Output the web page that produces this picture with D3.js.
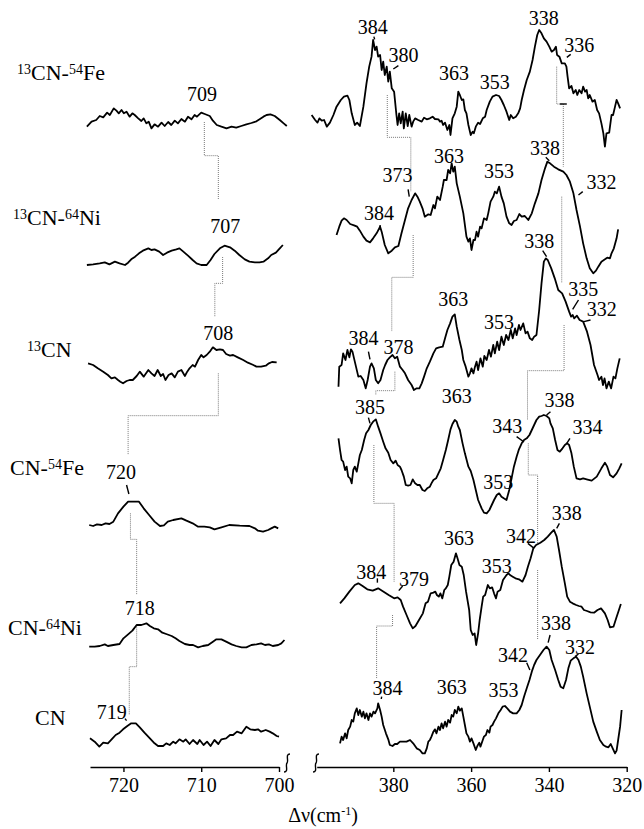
<!DOCTYPE html>
<html lang="en">
<head>
<meta charset="UTF-8">
<title>RR spectra, isotope shifts</title>
<script src="https://cdn.jsdelivr.net/npm/d3@7"></script>
<style>
  body { margin: 0; background: #fff; }
  svg text { font-family: "Liberation Serif", "DejaVu Serif", serif; fill: #000; }
  .trace { fill: none; stroke: #000; stroke-width: 1.8; stroke-linejoin: round; }
  .link { fill: none; stroke: #7a7a7a; stroke-width: 1; stroke-dasharray: 1 1; }
  .mark { stroke: #000; stroke-width: 1.4; fill: none; }
  .axis path, .axis line { stroke: #000; stroke-width: 1.4; }
  .axis text { font-size: 20px; }
  .peak { font-size: 20px; }
  .name { font-size: 22px; }
</style>
</head>
<body>
<svg id="chart" width="644" height="829"></svg>
<script>
// spectra: [wavenumber (cm-1), intensity (a.u.)]
const t1L = [[724.7,70],[724.1,85],[723.5,90],[723.05,102],[722.6,98],[722.1,112],[721.75,105],[721.25,125],[720.9,118],[720.6,110],[720.25,120],[719.95,110],[719.6,115],[719.2,100],[718.85,110],[718.55,105],[718.1,95],[717.7,87],[717.4,95],[717.05,80],[716.75,85],[716.4,65],[716.0,77],[715.55,70],[715.1,82],[714.7,72],[714.25,84],[713.85,75],[713.4,88],[713.0,80],[712.55,93],[712.1,85],[711.7,100],[711.25,92],[710.85,105],[710.55,100],[710.0,112],[709.55,108],[708.9,102],[708.5,88],[708.0,75],[707.4,70],[706.75,65],[706.1,70],[705.5,67],[704.85,72],[704.2,77],[703.55,81],[702.9,86],[702.5,92],[702.0,100],[701.6,105],[701.1,107],[700.55,102],[699.9,90],[699.4,80],[699.0,72]];
const t1R = [[401.0,105],[400.1,90],[399.5,82],[399.0,95],[398.4,88],[397.8,90],[397.1,70],[396.3,82],[395.4,105],[394.6,130],[393.5,150],[392.7,160],[391.8,163],[391.3,150],[390.7,110],[389.9,75],[389.3,82],[388.6,72],[387.7,130],[386.9,200],[386.2,250],[385.6,280],[385.2,330],[384.7,300],[384.3,310],[383.9,280],[383.4,285],[383.0,240],[382.6,265],[382.2,225],[381.7,250],[381.3,205],[380.9,235],[380.4,185],[379.8,175],[379.2,105],[378.9,75],[378.5,110],[378.1,80],[377.6,115],[377.3,65],[376.8,110],[376.3,72],[375.9,105],[375.3,70],[374.9,85],[374.4,95],[373.6,90],[372.7,85],[372.1,97],[371.4,92],[370.6,95],[369.9,100],[369.3,93],[368.4,92],[368.0,85],[367.6,88],[367.2,75],[366.7,82],[366.1,60],[365.6,75],[365.3,45],[364.8,95],[364.2,110],[363.7,130],[363.3,175],[362.9,165],[362.4,150],[362.0,152],[361.6,120],[361.2,110],[360.7,75],[360.1,45],[359.6,55],[359.3,50],[358.8,70],[358.2,82],[357.7,78],[357.0,95],[356.4,100],[356.0,120],[355.2,145],[354.5,160],[353.6,165],[352.8,162],[352.2,150],[351.6,135],[350.9,115],[350.2,90],[349.8,105],[349.2,95],[348.5,100],[347.9,110],[347.4,125],[347.0,150],[346.4,180],[345.7,210],[344.9,235],[344.2,270],[343.6,310],[343.0,345],[342.5,360],[341.9,350],[341.3,335],[340.6,325],[339.9,310],[339.3,295],[338.7,300],[338.2,310],[337.9,285],[337.3,280],[336.7,260],[335.9,260],[335.5,250],[335.2,220],[334.8,185],[334.2,192],[333.7,170],[333.1,180],[332.7,165],[332.2,180],[331.6,170],[331.2,190],[330.7,175],[330.3,180],[329.9,155],[329.5,165],[328.8,145],[328.2,150],[327.6,120],[327.1,110],[326.5,80],[326.0,50],[325.6,10],[325.2,50],[324.5,52],[323.9,105],[323.5,105],[323.0,130],[322.6,150],[322.2,140],[321.7,125]];
const t2L = [[724.7,30],[723.9,32],[723.05,35],[722.4,38],[721.8,32],[721.1,40],[720.5,35],[719.8,30],[719.4,37],[719.0,47],[718.5,55],[718.0,65],[717.5,73],[716.8,80],[716.4,75],[716.0,77],[715.4,70],[714.9,60],[714.4,67],[713.8,73],[713.2,77],[712.8,80],[712.3,70],[711.7,58],[711.1,45],[710.6,35],[710.0,30],[709.3,30],[708.8,45],[708.3,63],[707.6,80],[707.0,88],[706.3,83],[705.7,73],[705.1,60],[704.4,47],[703.8,40],[703.1,38],[702.5,38],[702.0,40],[701.4,50],[701.0,60],[700.4,67],[699.9,80],[699.5,90]];
const t2R = [[394.6,120],[393.9,145],[393.3,163],[392.7,170],[392.0,165],[391.1,153],[390.1,149],[389.3,145],[388.6,133],[387.7,115],[386.9,103],[386.0,98],[385.2,110],[384.3,125],[383.4,145],[383.0,130],[382.2,90],[381.3,65],[380.4,73],[379.6,83],[378.7,87],[377.9,125],[377.0,165],[376.2,200],[375.3,225],[374.4,245],[373.8,235],[373.2,220],[372.5,200],[371.9,175],[371.0,182],[370.4,180],[369.7,210],[369.3,200],[368.7,235],[368.0,225],[367.3,265],[367.0,285],[366.3,285],[365.9,315],[365.4,305],[365.0,335],[364.6,310],[364.2,325],[363.7,275],[362.9,235],[362.0,185],[361.2,115],[360.7,100],[360.3,110],[359.9,75],[359.4,105],[359.0,105],[358.6,130],[358.2,115],[357.7,145],[357.3,140],[356.7,170],[356.0,165],[355.6,185],[355.0,220],[354.3,235],[353.9,250],[353.4,245],[352.8,265],[352.2,235],[351.6,215],[350.9,175],[350.2,155],[349.6,150],[349.0,162],[348.3,165],[347.6,183],[347.0,175],[346.2,177],[345.3,165],[344.4,185],[343.6,215],[342.7,245],[341.9,285],[341.0,320],[340.4,340],[339.7,335],[338.7,325],[337.6,317],[336.3,310],[335.5,300],[334.6,280],[333.7,245],[332.9,195],[332.0,145],[331.2,95],[330.3,50],[329.5,20],[328.6,5],[327.9,13],[327.3,25],[326.5,40],[325.6,47],[325.0,52],[324.3,50],[323.9,65],[323.3,80],[322.6,110],[322.2,137]];
const t3L = [[724.55,86],[723.9,81],[723.3,71],[722.6,61],[722.0,51],[721.55,41],[721.1,44],[720.7,36],[720.4,31],[720.05,26],[719.6,33],[719.2,36],[718.8,36],[718.3,48],[717.9,61],[717.4,46],[716.8,66],[716.4,56],[716.0,48],[715.6,66],[715.2,48],[714.9,54],[714.6,36],[714.2,51],[713.8,56],[713.4,44],[713.0,61],[712.55,66],[712.1,48],[711.8,61],[711.5,71],[711.1,81],[710.8,76],[710.4,96],[710.0,111],[709.7,104],[709.3,111],[708.9,121],[708.5,134],[708.05,126],[707.6,128],[707.2,126],[706.8,114],[706.3,109],[705.9,111],[705.3,104],[704.6,96],[704.0,88],[703.3,81],[702.9,76],[702.3,76],[701.7,79],[701.3,86],[700.9,90],[700.3,89]];
const t3R = [[394.1,16],[393.9,76],[393.3,81],[392.9,116],[392.3,96],[391.8,126],[391.3,104],[390.9,128],[390.5,121],[390.1,101],[389.6,76],[389.0,46],[388.4,48],[387.7,36],[387.1,11],[386.6,36],[386.0,76],[385.6,86],[385.0,71],[384.5,36],[383.9,26],[383.3,36],[382.6,66],[382.1,81],[381.5,96],[380.9,104],[380.2,111],[379.6,101],[379.0,106],[378.3,76],[377.6,66],[377.0,56],[376.2,36],[375.3,21],[374.7,6],[374.0,11],[373.3,11],[372.7,26],[372.1,46],[371.4,71],[370.6,91],[369.7,116],[369.0,131],[368.2,134],[367.3,136],[366.7,161],[366.1,186],[365.4,206],[364.8,226],[364.2,233],[363.7,196],[363.0,156],[362.4,126],[362.0,96],[361.4,76],[360.7,46],[360.3,56],[359.9,71],[359.4,56],[359.0,76],[358.6,91],[358.2,66],[357.6,101],[357.0,76],[356.6,108],[356.0,96],[355.4,126],[354.9,106],[354.3,141],[353.9,116],[353.3,151],[352.8,126],[352.2,166],[351.6,141],[351.0,171],[350.4,156],[349.8,186],[349.3,161],[348.7,191],[348.3,171],[347.7,201],[347.3,186],[346.6,206],[346.0,176],[345.5,181],[344.9,161],[344.3,156],[343.8,166],[343.2,171],[342.5,246],[341.9,326],[341.3,391],[340.8,401],[340.3,396],[339.4,371],[338.5,341],[337.6,306],[336.6,296],[335.7,271],[334.8,241],[334.3,226],[333.9,231],[333.5,221],[332.8,229],[332.1,216],[331.2,211],[330.2,181],[329.3,141],[328.4,81],[327.5,51],[327.1,36],[326.5,46],[326.1,21],[325.7,41],[325.2,11],[324.6,31],[324.0,11],[323.4,46],[322.9,41],[322.4,71],[321.8,101]];
const t4L = [[724.4,21],[723.9,18],[723.4,23],[722.8,21],[722.3,26],[721.8,24],[721.3,31],[720.7,56],[720.0,76],[719.4,91],[718.8,91],[718.0,91],[717.4,71],[716.7,51],[716.0,31],[715.3,18],[714.8,20],[714.3,31],[713.6,36],[712.55,41],[711.9,34],[711.1,26],[710.4,16],[709.6,16],[708.9,14],[708.3,8],[707.4,14],[706.4,21],[705.05,19],[703.8,18],[703.1,11],[702.7,4],[702.05,1],[701.4,6],[701.0,11],[700.55,16],[700.1,11]];
const t4R = [[394.1,281],[393.7,246],[393.3,216],[392.9,211],[392.4,186],[392.0,196],[391.6,166],[391.1,161],[390.7,146],[390.3,186],[389.9,196],[389.4,181],[389.0,206],[388.6,231],[388.1,246],[387.5,276],[387.0,296],[386.4,306],[385.8,321],[385.2,331],[384.5,338],[383.9,316],[383.3,296],[382.6,271],[382.0,251],[381.3,238],[380.7,216],[380.0,206],[379.4,214],[378.9,201],[378.3,196],[377.9,186],[377.3,166],[376.8,141],[376.2,139],[375.6,141],[375.0,158],[374.4,146],[373.8,141],[373.2,141],[372.5,126],[371.9,123],[371.3,131],[370.6,136],[370.2,146],[369.7,156],[369.0,161],[368.4,176],[367.8,191],[367.2,216],[366.5,246],[365.9,276],[365.3,308],[364.8,324],[364.2,336],[363.7,331],[363.3,316],[362.9,306],[362.2,266],[361.6,236],[360.7,196],[360.1,183],[359.4,156],[358.8,126],[358.2,96],[357.3,71],[356.7,58],[356.0,56],[355.3,66],[354.7,81],[354.1,96],[353.4,111],[352.8,116],[352.2,106],[351.6,101],[350.9,96],[350.2,126],[349.6,161],[349.0,196],[348.3,226],[347.7,248],[347.0,266],[346.4,276],[345.7,281],[345.0,291],[344.4,306],[343.8,321],[343.2,336],[342.5,346],[341.9,348],[341.3,351],[340.6,348],[339.9,341],[339.6,326],[339.0,311],[338.4,276],[337.8,246],[337.2,241],[336.5,251],[335.9,261],[335.3,266],[334.8,261],[334.2,236],[333.6,196],[332.9,161],[332.0,158],[331.2,161],[330.3,158],[329.0,154],[327.7,166],[326.5,191],[325.6,208],[325.0,196],[324.3,171],[323.5,164],[322.6,176],[321.9,191],[321.3,206]];
const t5L = [[724.4,16],[723.7,16],[723.05,18],[722.4,23],[722.0,18],[721.3,21],[720.5,24],[720.0,41],[719.4,53],[718.85,64],[718.3,81],[717.7,81],[717.05,86],[716.6,78],[716.1,71],[715.55,68],[715.0,58],[714.5,54],[713.8,48],[713.3,41],[712.8,33],[712.1,24],[711.5,21],[711.05,21],[710.4,14],[709.8,18],[709.1,21],[708.5,31],[708.05,38],[707.4,38],[706.8,31],[706.1,23],[705.5,18],[704.8,14],[704.2,14],[703.55,21],[702.9,23],[702.3,26],[701.8,21],[701.3,23],[700.8,18],[700.1,21],[699.7,26],[699.3,36]];
const t5R = [[393.7,146],[392.6,161],[391.3,181],[389.9,201],[389.0,206],[387.9,198],[386.7,188],[385.3,184],[383.9,191],[382.5,181],[381.2,171],[379.8,161],[378.9,164],[378.1,156],[377.5,136],[376.6,111],[375.7,86],[375.0,71],[374.3,78],[373.4,96],[372.4,116],[371.7,146],[371.1,151],[370.4,176],[369.7,178],[369.2,181],[368.8,171],[368.3,166],[367.9,176],[367.4,161],[366.9,186],[366.5,191],[366.0,201],[365.6,226],[365.1,261],[364.5,271],[363.9,296],[363.5,281],[363.0,261],[362.4,256],[361.9,231],[361.3,181],[360.5,126],[360.1,66],[359.6,51],[359.1,56],[358.7,21],[358.2,56],[357.8,96],[357.3,136],[356.9,166],[356.4,171],[355.7,201],[355.2,191],[354.6,194],[354.1,176],[353.6,161],[353.2,181],[352.5,186],[351.8,216],[350.9,231],[350.4,236],[350.0,231],[349.3,226],[348.6,221],[347.7,218],[346.8,211],[346.0,231],[345.4,256],[344.7,281],[344.0,311],[343.3,321],[342.2,328],[341.2,336],[340.3,346],[339.4,358],[338.7,366],[338.0,346],[337.4,306],[336.7,256],[335.9,206],[335.3,166],[334.6,151],[333.9,146],[333.0,141],[332.3,138],[331.6,136],[331.0,126],[330.2,123],[329.3,119],[328.4,118],[327.5,126],[326.6,131],[325.6,116],[324.9,96],[324.3,74],[323.4,76],[322.7,101],[322.0,126],[321.5,144]];
const t6L = [[724.3,65],[723.7,55],[723.1,40],[722.6,52],[722.0,50],[721.4,65],[721.0,75],[720.5,82],[720.05,92],[719.5,102],[719.0,110],[718.4,110],[717.9,98],[717.3,82],[716.6,65],[716.0,50],[715.55,42],[714.9,42],[714.5,50],[714.05,45],[713.6,55],[713.3,50],[712.8,62],[712.3,55],[712.0,62],[711.5,48],[711.05,60],[710.5,48],[710.2,60],[709.7,45],[709.25,55],[708.8,42],[708.3,60],[707.8,48],[707.4,62],[706.8,65],[706.3,75],[705.9,75],[705.4,85],[704.8,80],[704.2,100],[703.7,92],[703.1,90],[702.7,92],[702.3,85],[701.7,90],[701.2,85],[700.8,80],[700.3,72],[700.0,70]];
const t6R = [[393.7,50],[393.3,70],[392.9,60],[392.4,80],[392.0,65],[391.6,90],[391.1,100],[390.7,120],[390.3,115],[389.9,140],[389.4,155],[389.0,135],[388.6,150],[388.1,130],[387.7,145],[387.3,125],[386.9,140],[386.4,120],[386.0,140],[385.6,130],[385.1,145],[384.7,140],[384.1,155],[383.9,170],[383.4,150],[383.0,130],[382.6,105],[381.9,80],[381.3,62],[380.9,45],[380.2,42],[379.6,48],[379.0,48],[378.3,55],[377.4,55],[376.6,55],[375.7,60],[374.9,50],[374.0,35],[373.2,30],[372.5,20],[371.9,20],[371.4,35],[371.0,55],[370.6,60],[370.2,70],[369.7,85],[369.3,92],[368.9,80],[368.4,100],[368.0,90],[367.6,110],[367.2,95],[366.7,115],[366.3,100],[365.9,120],[365.4,112],[365.0,135],[364.6,130],[364.2,150],[363.7,140],[363.3,160],[362.9,148],[362.4,155],[362.0,130],[361.6,105],[361.2,80],[360.7,70],[360.3,55],[359.9,65],[359.4,50],[358.8,30],[358.4,42],[357.9,52],[357.6,40],[357.0,60],[356.7,70],[356.2,75],[355.8,90],[355.3,82],[355.0,100],[354.5,105],[354.1,115],[353.6,125],[353.0,140],[352.4,150],[351.9,160],[351.3,162],[350.7,155],[350.0,145],[349.2,140],[348.3,140],[347.6,150],[347.0,165],[346.4,190],[345.7,215],[345.0,240],[344.4,265],[343.8,285],[343.2,300],[342.3,315],[341.4,330],[340.6,340],[339.9,330],[339.3,300],[338.4,270],[337.6,240],[337.0,220],[336.3,215],[335.6,240],[335.0,275],[334.4,298],[333.7,305],[333.0,310],[332.4,300],[331.8,280],[331.2,250],[330.3,200],[329.5,160],[328.6,115],[327.7,85],[326.9,60],[326.0,45],[325.3,40],[324.7,38],[324.1,48],[323.6,35],[323.0,20],[322.6,28],[322.2,60],[321.7,100],[321.3,150]];

const leftSpectra = [t1L, t2L, t3L, t4L, t5L, t6L];
const rightSpectra = [t1R, t2R, t3R, t4R, t5R, t6R];

// sample names: [text, isSuperscript]
const names = [
  [["13",1],["CN-",0],["54",1],["Fe",0]],
  [["13",1],["CN-",0],["64",1],["Ni",0]],
  [["13",1],["CN",0]],
  [["CN-",0],["54",1],["Fe",0]],
  [["CN-",0],["64",1],["Ni",0]],
  [["CN",0]]
];

// peak labels: [panel, text, wavenumber, intensity]
const peaks = [
  [["L","709",709.9,167],["R","384",385.3,370],["R","380",377.4,285],["R","363",364.4,230],["R","353",353.9,205],["R","338",341.3,395],["R","336",332.2,315]],
  [["L","707",706.9,147],["R","384",383.7,187],["R","373",378.9,300],["R","363",365.7,357],["R","353",352.8,313],["R","338",341.0,380],["R","332",326.5,280]],
  [["L","708",707.8,178],["R","338",342.5,454],["R","363",364.6,278],["R","353",352.8,211],["R","384",387.7,161],["R","378",378.7,134],["R","335",331.2,308],["R","332",326.4,248]],
  [["L","720",720.3,181],["R","385",386.0,376],["R","363",363.7,408],["R","343",350.7,318],["R","338",337.3,396],["R","334",330.1,316],["R","353",353.0,151]],
  [["L","718",717.9,131],["R","338",335.4,418],["R","342",347.2,349],["R","363",363.1,343],["R","353",353.4,258],["R","384",385.7,241],["R","379",374.7,218]],
  [["L","719",721.5,145],["R","384",381.5,215],["R","363",365.0,218],["R","353",351.7,210],["R","342",349.2,315],["R","338",338.2,410],["R","332",332.0,340]]
];

// leader strokes from labels to peaks: [panel, wn1, i1, wn2, i2]
const leaders = [
  [["R",385.0,340,384.8,332],["R",380.0,243,378.7,253],["R",335.4,278,334.4,287],["R",337.2,138,335.4,138]],
  [["R",383.4,150,383.4,135],["R",376.2,257,375.9,235],["R",340.8,353,339.9,343],["R",332.4,240,331.3,250]],
  [["R",341.6,424,340.6,406],["R",386.4,121,386.0,98],["R",332.4,276,333.9,248],["R",331.0,211,329.3,216]],
  [["L",719.6,141,719.3,114],["R",386.4,343,386.0,326],["R",348.3,286,346.4,270],["R",340.6,351,339.6,361],["R",335.4,266,334.6,281]],
  [["R",338.0,371,337.3,386],["R",345.4,326,343.8,311],["R",384.1,221,384.1,208],["R",377.6,198,378.6,184]],
  [["L",719.8,124,719.6,118],["R",383.0,190,383.1,183],["R",345.7,292,344.9,270],["R",339.7,375,340.2,352],["R",333.3,310,332.4,318]]
];

// dotted correlation lines: [upper trace, wn upper, wn lower, i start, i step, i end (lower trace)]
const linksL = [[0,709.6,707.8,84,-17,225],[1,707.25,708.25,54,-25,226],[2,707.8,719.4,56,-71,231],[3,719.1,718.3,56,-22,171],[4,718.3,719.25,76,-44,135]];
const linksA = [[0,381.55,375.5,165,38,250],[1,374.9,380.4,120,-7,181],[2,379.6,384.5,61,4,411],[3,385.0,379.8,261,86,211],[4,380.2,384.3,111,78,245]];
const linksB = [[0,338.0,336.3,250,138,325],[1,336.7,336.7,235,235,327],[2,336.1,345.5,201,64,336],[3,345.3,342.9,266,171,318],[4,342.9,342.9,246,246,363]];

const ticksL = [720, 710, 700];
const ticksR = [380, 360, 340, 320];

// layout
const baseY = [150, 275, 392, 532, 652, 760];
const nameXY = [[17,80],[13,225],[27,357],[10,475],[8,635],[35,725]];
const axisY = 767;

const svg = d3.select("#chart");
const xL = d3.scaleLinear().domain([724.3, 700]).range([90, 279]);
const xR = d3.scaleLinear().domain([399.7, 320]).range([316.7, 626.7]);
const xs = { L: xL, R: xR };
const yScale = i => d3.scaleLinear().domain([0, 300]).range([baseY[i], baseY[i] - 100]);
const ys = baseY.map((b, i) => yScale(i));

// dotted links
function drawLinks(links, x) {
  svg.append("g").selectAll("path").data(links).enter().append("path")
    .attr("class", "link")
    .attr("d", d => {
      const yt = ys[d[0]], yb = ys[d[0] + 1];
      return `M${x(d[1])},${yt(d[3])}V${yt(d[4])}H${x(d[2])}V${yb(d[5])}`;
    });
}
drawLinks(linksL, xL);
drawLinks(linksA, xR);
drawLinks(linksB, xR);

// traces
const g = svg.append("g");
[leftSpectra, rightSpectra].forEach((set, k) => {
  const x = k === 0 ? xL : xR;
  set.forEach((data, i) => {
    const line = d3.line().x(d => x(d[0])).y(d => ys[i](d[1]));
    g.append("path").attr("class", "trace").attr("d", line(data));
  });
});

// peak labels
peaks.forEach((list, i) => {
  svg.append("g").selectAll("text").data(list).enter().append("text")
    .attr("class", "peak")
    .attr("x", d => xs[d[0]](d[2]))
    .attr("y", d => ys[i](d[3]))
    .attr("dy", "0.35em")
    .attr("text-anchor", "middle")
    .text(d => d[1]);
});
leaders.forEach((list, i) => {
  svg.append("g").selectAll("line").data(list).enter().append("line")
    .attr("class", "mark")
    .attr("x1", d => xs[d[0]](d[1])).attr("y1", d => ys[i](d[2]))
    .attr("x2", d => xs[d[0]](d[3])).attr("y2", d => ys[i](d[4]));
});

// sample names
names.forEach((parts, i) => {
  const t = svg.append("text").attr("class", "name")
    .attr("x", nameXY[i][0]).attr("y", nameXY[i][1]);
  let prev = 0;
  parts.forEach(p => {
    const shift = p[1] ? -6 : 0;
    t.append("tspan")
      .attr("dy", shift - prev)
      .attr("font-size", p[1] ? 14 : null)
      .text(p[0]);
    prev = shift;
  });
});

// axes
svg.append("g").attr("class", "axis")
  .attr("transform", `translate(0,${axisY})`)
  .call(d3.axisBottom(xL).tickValues(ticksL).tickSize(5).tickSizeOuter(0).tickPadding(6).tickFormat(d3.format("d")));
svg.append("g").attr("class", "axis")
  .attr("transform", `translate(0,${axisY})`)
  .call(d3.axisBottom(xR).tickValues(ticksR).tickSize(5).tickSizeOuter(0).tickPadding(6).tickFormat(d3.format("d")));

// axis breaks
const squiggle = "M3,-9C-2,-9 2,-2 0,0C-2,2 2,9 -3,9";
[287, 316].forEach(bx => {
  svg.append("path").attr("class", "mark")
    .attr("transform", `translate(${bx},${axisY - 4})`)
    .attr("d", squiggle);
});

// axis title
const title = svg.append("text").attr("x", 323).attr("y", 822)
  .attr("text-anchor", "middle").attr("font-size", 20);
title.append("tspan").text("Δν(cm");
title.append("tspan").attr("dy", -7).attr("font-size", 12).text("-1");
title.append("tspan").attr("dy", 7).text(")");
</script>
</body>
</html>
